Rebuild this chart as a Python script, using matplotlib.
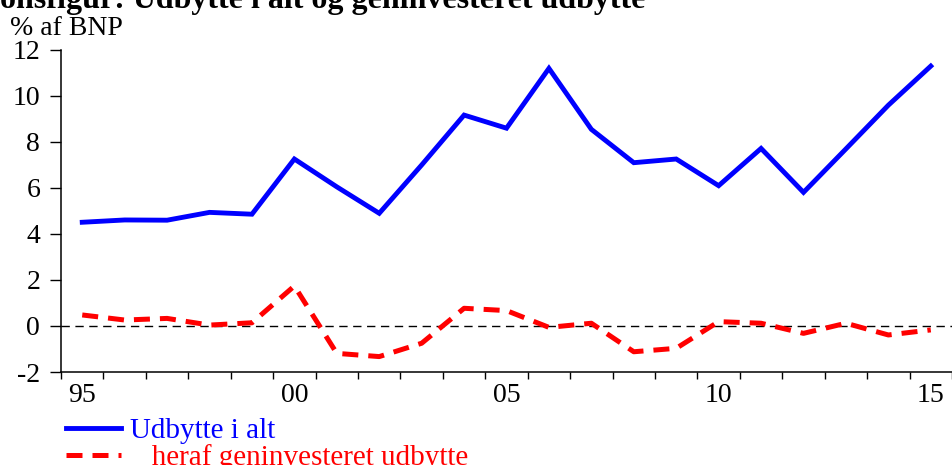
"""Udbytte i alt og geninvesteret udbytte, % af BNP."""

import matplotlib
matplotlib.use("Agg")
import matplotlib.pyplot as plt
from matplotlib.ticker import FixedLocator, NullFormatter

plt.rcParams["font.family"] = ["Liberation Serif", "DejaVu Serif"]

YEARS = list(range(1995, 2016))
UDBYTTE_I_ALT = [4.51, 4.61, 4.60, 4.94, 4.86, 7.26, 6.05, 4.90, 7.00, 9.17, 8.60,
                 11.20, 8.55, 7.10, 7.26, 6.10, 7.72, 5.81, 7.70, 9.60, 11.30]
GENINVESTERET = [0.48, 0.26, 0.33, 0.04, 0.14, 1.74, -1.19, -1.33, -0.75, 0.77, 0.67,
                 -0.06, 0.12, -1.12, -0.97, 0.19, 0.12, -0.32, 0.12, -0.39, -0.17]
LABEL_YEARS = [1995, 2000, 2005, 2010, 2015]
LABEL_TEXT = ["95", "00", "05", "10", "15"]
Y_TICKS = [-2, 0, 2, 4, 6, 8, 10, 12]

TITLE = "onsfigur: Udbytte i alt og geninvesteret udbytte"
UNIT = "% af BNP"
OUTPUT = "out.png"
FS = 20


def main() -> None:
    fig = plt.figure(figsize=(9.52, 4.65), dpi=100)
    ax = fig.add_axes([0.0641, 0.2, 0.9359, 0.6925])

    ax.axhline(0, color="black", linewidth=1.0, linestyle=(0, (6, 4)), zorder=1)
    ax.plot(YEARS, UDBYTTE_I_ALT, color="#0000ff", linewidth=3.5,
            solid_joinstyle="miter", label="Udbytte i alt", zorder=3)
    ax.plot(YEARS, GENINVESTERET, color="#ff0000", linewidth=3.6,
            linestyle=(0, (3.2, 2.0)), label="   heraf geninvesteret udbytte", zorder=3)

    ax.set_xlim(1994.5, 2015.5)
    ax.set_ylim(-2, 12)
    for side in ("top", "right"):
        ax.spines[side].set_visible(False)
    for side in ("left", "bottom"):
        ax.spines[side].set_linewidth(1.1)

    # year boundaries carry the tick marks, labels sit mid-year
    ax.xaxis.set_major_locator(FixedLocator([y - 0.5 for y in YEARS + [2016]]))
    ax.xaxis.set_major_formatter(NullFormatter())
    ax.xaxis.set_minor_locator(FixedLocator(LABEL_YEARS))
    ax.set_xticklabels(LABEL_TEXT, minor=True)
    ax.tick_params(axis="x", which="major", direction="out", length=5, width=1.0)
    ax.tick_params(axis="x", which="minor", length=0, pad=8, labelsize=FS)

    ax.set_yticks(Y_TICKS)
    ax.set_yticklabels([str(v) for v in Y_TICKS])
    ax.tick_params(axis="y", direction="out", length=8, width=1.0, pad=7, labelsize=FS)

    fig.text(0.0, 1 - 8 / 465, TITLE, fontsize=23, fontweight="bold",
             ha="left", va="baseline")
    fig.text(10 / 952, 1 - 35 / 465, UNIT, fontsize=FS, ha="left", va="baseline")

    fig.legend(loc="upper left", bbox_to_anchor=(66 / 952, 1 - 418 / 465),
               frameon=False, fontsize=21, handlelength=1.9, handletextpad=0.3,
               labelspacing=0.0, borderaxespad=0, borderpad=0,
               labelcolor="linecolor")

    fig.savefig(OUTPUT, dpi=100)
    plt.close(fig)


if __name__ == "__main__":
    main()
